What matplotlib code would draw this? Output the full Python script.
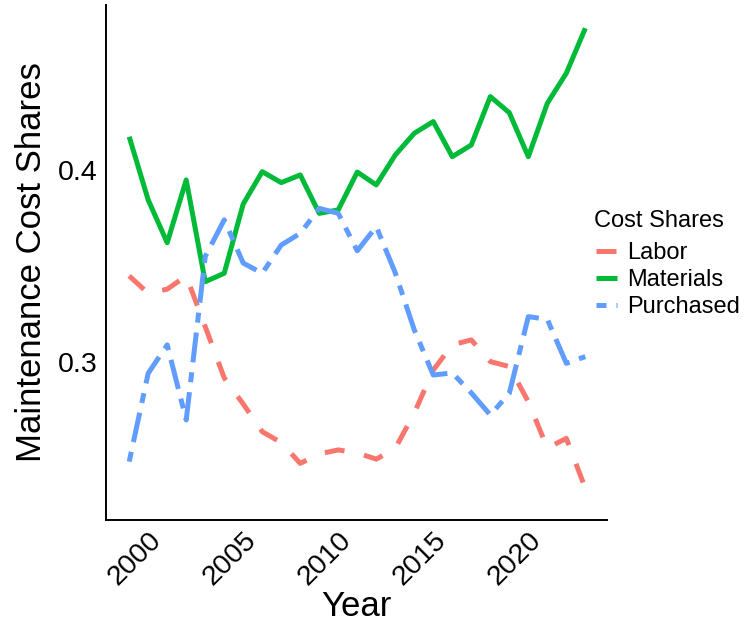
import matplotlib
matplotlib.use('Agg')
import matplotlib.pyplot as plt

plt.rcParams['font.family'] = ['Liberation Sans', 'DejaVu Sans']

# data
years = list(range(1999, 2024))
labor = [0.3448, 0.3358, 0.3379, 0.3448, 0.3184, 0.2917, 0.2781, 0.2637, 0.2580,
         0.2472, 0.2521, 0.2542, 0.2526, 0.2494, 0.2550, 0.2734, 0.2958, 0.3089,
         0.3115, 0.3002, 0.2976, 0.2793, 0.2552, 0.2602, 0.2342]
materials = [0.4173, 0.3844, 0.3621, 0.3948, 0.3418, 0.3462, 0.3823, 0.3991, 0.3934,
             0.3974, 0.3774, 0.3792, 0.3989, 0.3922, 0.4078, 0.4191, 0.4252, 0.4069,
             0.4130, 0.4382, 0.4298, 0.4069, 0.4347, 0.4504, 0.4738]
purchased = [0.2481, 0.2941, 0.3089, 0.2698, 0.3549, 0.3740, 0.3515, 0.3462, 0.3609,
             0.3670, 0.3800, 0.3774, 0.3579, 0.3705, 0.3464, 0.3167, 0.2932, 0.2943,
             0.2839, 0.2724, 0.2837, 0.3236, 0.3222, 0.2993, 0.3028]

series = {
    "Labor": (labor, '#F8766D', (0, (4, 4))),
    "Materials": (materials, '#00BA38', '-'),
    "Purchased": (purchased, '#619CFF', (0, (2, 2, 6, 2))),
}

W, H = 746, 632
fig = plt.figure(figsize=(W / 100, H / 100), dpi=100)
ax = fig.add_axes([106/W, 1 - 520/H, (607 - 106)/W, (520 - 5)/H])

for name, (vals, col, ls) in series.items():
    ax.plot(years, vals, color=col, linestyle=ls, linewidth=3.6,
            solid_capstyle='butt', dash_capstyle='butt', label=name)

ax.set_xlim(1997.78, 2024.14)
ax.set_ylim(0.2177, 0.4859)
ax.set_xticks([2000, 2005, 2010, 2015, 2020])
ax.set_yticks([0.3, 0.4])
ax.set_yticklabels(['0.3', '0.4'])

for side in ['top', 'right']:
    ax.spines[side].set_visible(False)
for side in ['left', 'bottom']:
    ax.spines[side].set_linewidth(1.4)

ax.tick_params(axis='both', length=0, labelsize=20.5, colors='black')
ax.tick_params(axis='y', pad=6)
ax.tick_params(axis='x', pad=5)
plt.setp(ax.get_xticklabels(), rotation=45, ha='right', va='top', rotation_mode='anchor')

ax.set_xlabel('Year', fontsize=25, labelpad=0)
ax.set_ylabel('Maintenance Cost Shares', fontsize=25, labelpad=7)

# legend: title drawn separately to get the ggplot spacing
fig.text(594/W, 1 - 221/H, 'Cost Shares', fontsize=17, ha='left', va='center')
ax.legend(loc='upper left', bbox_to_anchor=(587/W, 1 - 233/H),
          bbox_transform=fig.transFigure, frameon=False, fontsize=17,
          handlelength=0.85, handletextpad=0.45, labelspacing=0.2,
          borderaxespad=0)

fig.savefig('out.png', dpi=100)
